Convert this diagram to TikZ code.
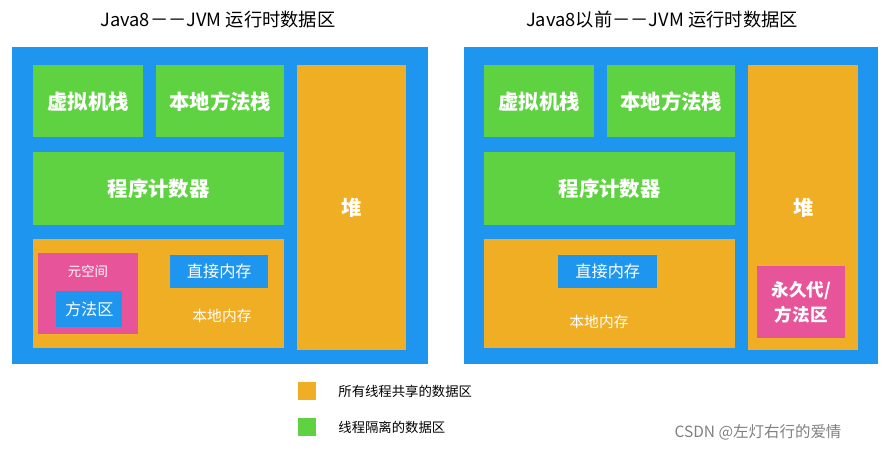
\documentclass[tikz,border=0pt]{standalone}
\usepackage{fontspec}
\setmainfont{Noto Sans CJK SC}
\usetikzlibrary{positioning}
\definecolor{PanelBlue}{RGB}{30,150,240}
\definecolor{BoxGreen}{RGB}{94,210,64}
\definecolor{BoxOrange}{RGB}{240,174,36}
\definecolor{BoxPink}{RGB}{232,84,154}
\tikzset{
	blk/.style={inner sep=0pt, anchor=north west, text=white, font=\fontsize{14.5}{17}\selectfont\bfseries},
	small/.style={text=white, font=\fontsize{9.5}{11}\selectfont},
	title/.style={font=\fontsize{13}{15}\selectfont},
}
\newcommand{\blk}[6]{% name, x, y, w, h, colour
	\node[blk, fill=#6, minimum width=#4*0.025cm, minimum height=#5*0.025cm] (#1) at (#2,#3) {};}
\begin{document}
\begin{tikzpicture}[x=0.025cm, y=-0.025cm]
	\useasboundingbox (0,0) rectangle (885,452);
	
	% ---
	
	\node[title] (TitleA) at (218,20) {Java8－－JVM 运行时数据区};
	\node[title] (TitleB) at (662,20) {Java8以前－－JVM 运行时数据区};
	
	% ---
	
	\blk{PanelA}{12}{47}{416}{317}{PanelBlue}
	\blk{VmStackA}{33}{65}{110}{72}{BoxGreen}
	\blk{NatStackA}{156}{65}{128}{72}{BoxGreen}
	\blk{PcA}{33}{152}{251}{73}{BoxGreen}
	\blk{HeapA}{297}{65}{109}{285}{BoxOrange}
	\blk{NatMemA}{33}{239}{251}{109}{BoxOrange}
	\blk{MetaA}{38}{253}{100}{81}{BoxPink}
	\blk{MethodA}{56}{291}{66}{36}{PanelBlue}
	\blk{DirectA}{170}{255}{98}{33}{PanelBlue}
	
	\node[blk, anchor=center] at (VmStackA) {虚拟机栈};
	\node[blk, anchor=center] at (NatStackA) {本地方法栈};
	\node[blk, anchor=center] at (PcA) {程序计数器};
	\node[blk, anchor=center] at (HeapA) {堆};
	\node[small] (MetaLabelA) at (88,271) {元空间};
	\node[small, font=\fontsize{11.5}{13}\selectfont] at (MethodA) {方法区};
	\node[small, font=\fontsize{11.5}{13}\selectfont] at (DirectA) {直接内存};
	\node[small, font=\fontsize{10.5}{12}\selectfont] (NatMemLabelA) at (222,316) {本地内存};
	
	% ---
	
	\blk{PanelB}{464}{47}{414}{317}{PanelBlue}
	\blk{VmStackB}{484}{65}{110}{72}{BoxGreen}
	\blk{NatStackB}{607}{65}{128}{72}{BoxGreen}
	\blk{PcB}{484}{152}{251}{73}{BoxGreen}
	\blk{HeapB}{748}{65}{110}{285}{BoxOrange}
	\blk{NatMemB}{484}{239}{251}{109}{BoxOrange}
	\blk{DirectB}{558}{255}{99}{33}{PanelBlue}
	\blk{PermB}{757}{266}{88}{72}{BoxPink}
	
	\node[blk, anchor=center] at (VmStackB) {虚拟机栈};
	\node[blk, anchor=center] at (NatStackB) {本地方法栈};
	\node[blk, anchor=center] at (PcB) {程序计数器};
	\node[blk, anchor=center] at (HeapB.center |- 0,208) {堆};
	\node[small, font=\fontsize{11.5}{13}\selectfont] at (DirectB) {直接内存};
	\node[small, font=\fontsize{10.5}{12}\selectfont] (NatMemLabelB) at (599,322) {本地内存};
	\node[blk, anchor=center, align=center, font=\fontsize{12.5}{18}\selectfont\bfseries] at (PermB) {永久代/\\方法区};
	
	% ---
	
	\blk{KeyShared}{298}{382}{18}{18}{BoxOrange}
	\blk{KeyPrivate}{298}{418}{18}{18}{BoxGreen}
	\node[anchor=west, font=\fontsize{9.5}{11}\selectfont, right=12pt of KeyShared] {所有线程共享的数据区};
	\node[anchor=west, font=\fontsize{9.5}{11}\selectfont, right=12pt of KeyPrivate] {线程隔离的数据区};
	\node[text=gray, font=\fontsize{11}{13}\selectfont] (Mark) at (758,432) {CSDN @左灯右行的爱情};
\end{tikzpicture}
\end{document}
